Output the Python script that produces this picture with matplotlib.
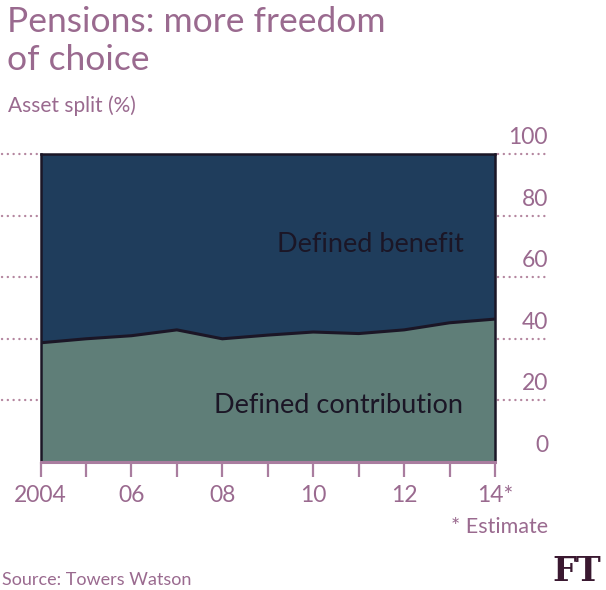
import matplotlib
matplotlib.use("Agg")
import matplotlib.pyplot as plt
import matplotlib.transforms as mtransforms

# ---- data ----
years = [2004, 2005, 2006, 2007, 2008, 2009, 2010, 2011, 2012, 2013, 2014]
defined_contribution = [38.7, 40.0, 41.0, 42.9, 40.0, 41.2, 42.2, 41.7, 42.9, 45.2, 46.4]
defined_benefit = [100 - v for v in defined_contribution]
x_tick_labels = ["2004", "", "06", "", "08", "", "10", "", "12", "", "14*"]
y_ticks = [0, 20, 40, 60, 80, 100]

# ---- style ----
FONT = ["Lato", "DejaVu Sans"]
plt.rcParams["font.family"] = FONT
MAUVE = "#9a6a8f"
AXIS_MAUVE = "#a97d9f"
DOT_MAUVE = "#b4869f"
NAVY = "#1f3d5c"
TEAL = "#5f7e78"
DARK = "#1b1626"

W, H = 606, 590
fig = plt.figure(figsize=(W / 100, H / 100), dpi=100)
fig.patch.set_facecolor("white")

left_px, right_px, top_px, bottom_px = 40.5, 495, 154, 462
ax = fig.add_axes([left_px / W, (H - bottom_px) / H,
                   (right_px - left_px) / W, (bottom_px - top_px) / H])

top_vals = [100] * len(years)
ax.fill_between(years, 0, defined_contribution, color=TEAL, lw=0, zorder=1)
ax.fill_between(years, defined_contribution, top_vals, color=NAVY, lw=0, zorder=1)
ax.plot(years, defined_contribution, color=DARK, lw=2.2, zorder=3,
        solid_joinstyle="round")

ax.set_xlim(years[0], years[-1])
ax.set_ylim(0, 100)

# spines
for s in ["left", "right", "top"]:
    ax.spines[s].set_color(DARK)
    ax.spines[s].set_linewidth(1.8)
ax.spines["bottom"].set_color(AXIS_MAUVE)
ax.spines["bottom"].set_linewidth(2.2)
ax.spines["bottom"].set_zorder(5)

# x ticks
ax.set_xticks(years)
ax.set_xticklabels(x_tick_labels)
ax.tick_params(axis="x", direction="out", length=10.5, width=1.6,
               color=AXIS_MAUVE, labelcolor=MAUVE, labelsize=16.5, pad=6)
ax.set_yticks([])

# dotted gridlines outside plot + right labels
trans = mtransforms.blended_transform_factory(ax.transAxes, ax.transData)
ext_left = -left_px / (right_px - left_px)
ext_right = (548 - left_px) / (right_px - left_px)
dot_style = dict(transform=trans, clip_on=False, color=DOT_MAUVE, lw=1.7,
                 ls=(0, (0.05, 2.4)), dash_capstyle="round", zorder=0)
for v in y_ticks:
    if v != 0:
        ax.plot([ext_left + 0.004, -0.004], [v, v], **dot_style)
        ax.plot([1.006, ext_right], [v, v], **dot_style)
    off = mtransforms.offset_copy(trans, fig=fig, x=0, y=6, units="dots")
    ax.text(ext_right, v, str(v), transform=off, ha="right", va="bottom",
            color=MAUVE, fontsize=16.5, clip_on=False)

# series labels
ax.text(2011.25, 70.5, "Defined benefit", color=DARK, fontsize=19.5,
        ha="center", va="center")
ax.text(2010.55, 18.5, "Defined contribution", color=DARK, fontsize=19.5,
        ha="center", va="center")

# titles
fig.text(7 / W, 1 - 6 / H, "Pensions: more freedom\nof choice", color=MAUVE,
         fontsize=25.5, ha="left", va="top", linespacing=1.25)
fig.text(8 / W, 1 - 95 / H, "Asset split (%)", color=MAUVE, fontsize=15,
         ha="left", va="top")
fig.text(548 / W, 1 - 527 / H, "* Estimate", color=MAUVE, fontsize=15.5,
         ha="right", va="center")
fig.text(2 / W, 1 - 580 / H, "Source: Towers Watson", color=MAUVE, fontsize=13,
         ha="left", va="center")
fig.text(601 / W, 2 / H, "FT", color="#3a1830", fontsize=24,
         fontweight="bold", family=["DejaVu Serif"], ha="right", va="bottom")

fig.savefig("out.png", dpi=100, facecolor="white")
